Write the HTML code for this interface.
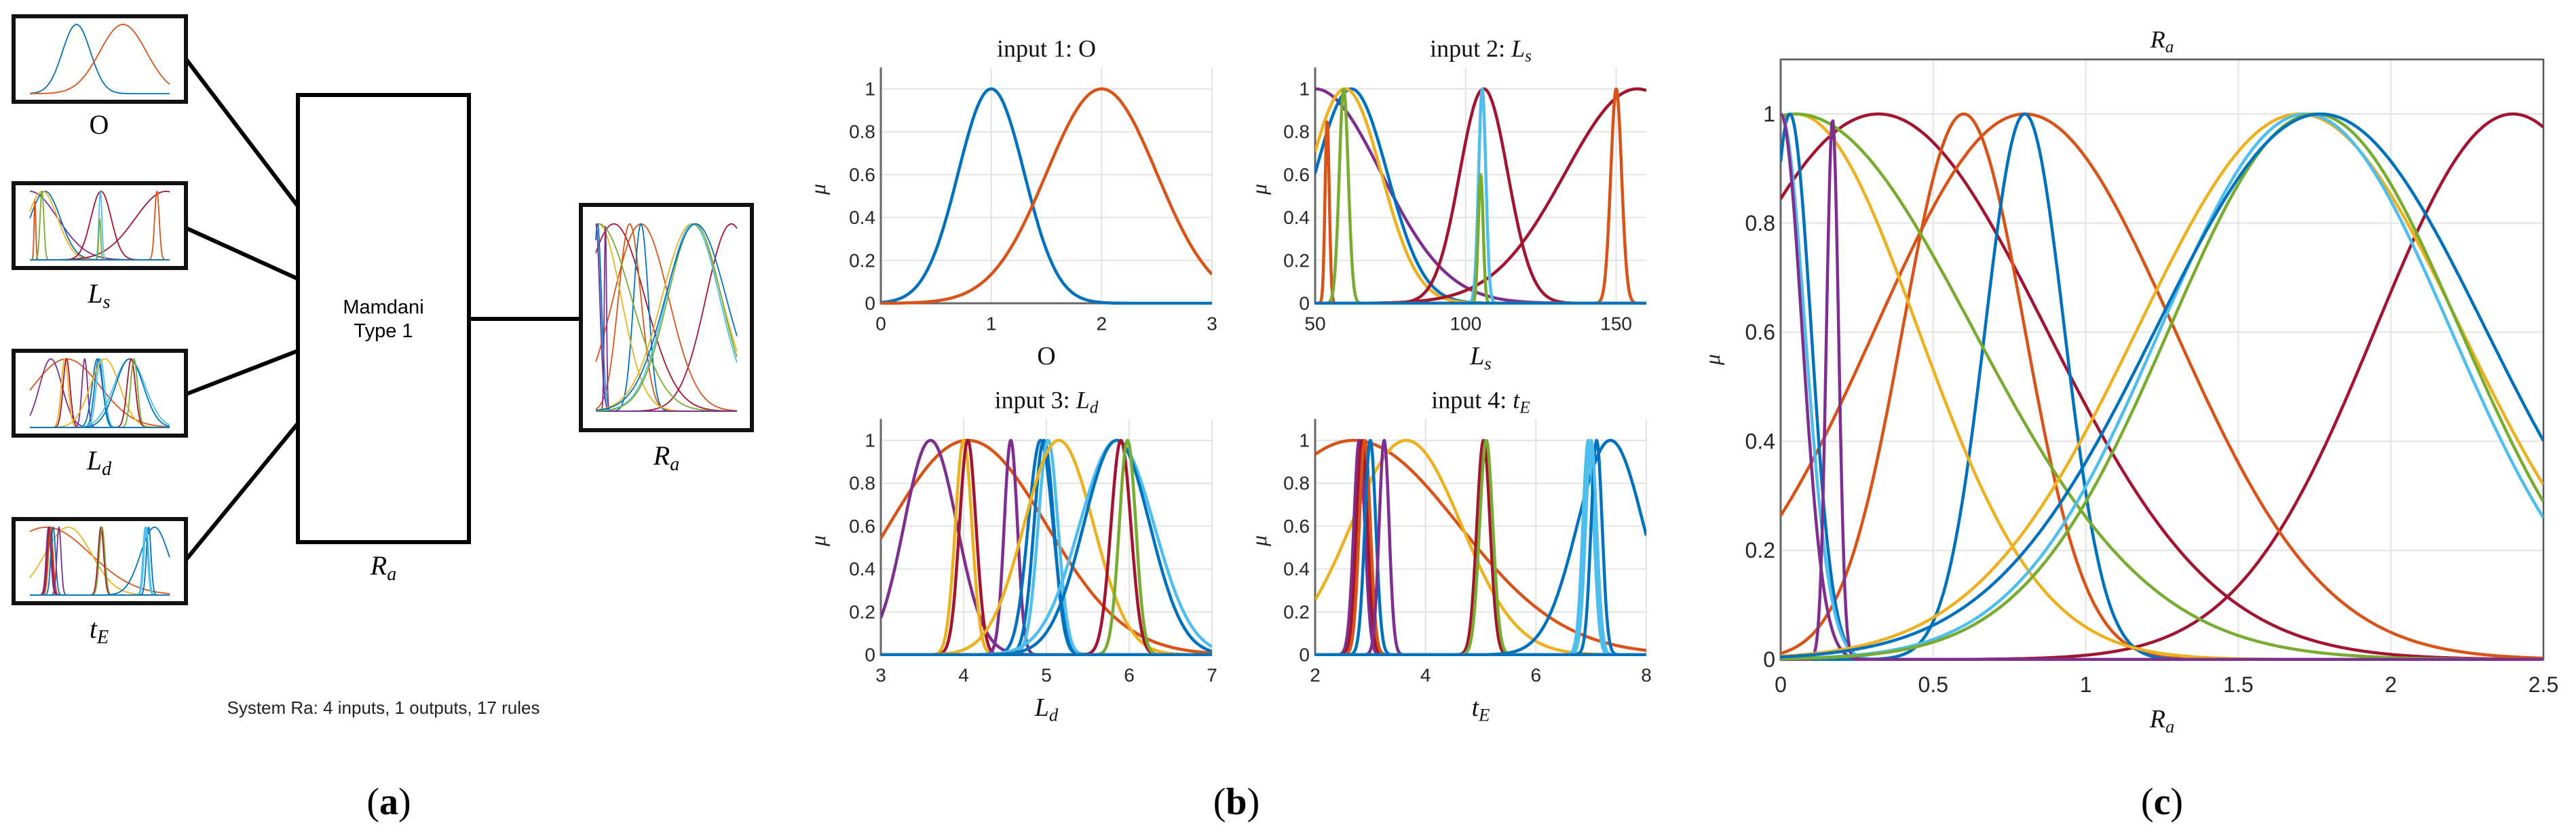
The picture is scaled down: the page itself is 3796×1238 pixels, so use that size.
<!DOCTYPE html>
<html><head><meta charset="utf-8"><style>
html,body{margin:0;padding:0;background:#fff;}
svg{display:block;}
</style></head><body>
<svg id="fig" xmlns="http://www.w3.org/2000/svg" width="3796" height="1238" viewBox="0 0 3796 1238">
<rect width="3796" height="1238" fill="#fff"/>
<g id="panelA">
  <line x1="274" y1="87" x2="439" y2="304" stroke="#000" stroke-width="6"/>
  <line x1="274" y1="336" x2="439" y2="411" stroke="#000" stroke-width="6"/>
  <line x1="274" y1="581" x2="439" y2="517" stroke="#000" stroke-width="6"/>
  <line x1="274" y1="825" x2="439" y2="624" stroke="#000" stroke-width="6"/>
  <line x1="691" y1="470" x2="856" y2="470" stroke="#000" stroke-width="6"/>
  <rect x="439" y="140" width="252" height="659" fill="#fff" stroke="#000" stroke-width="6"/>
  <text x="565" y="462" font-family="Liberation Sans, sans-serif" font-size="29" text-anchor="middle">Mamdani</text>
  <text x="565" y="497" font-family="Liberation Sans, sans-serif" font-size="29" text-anchor="middle">Type 1</text>
  <text x="565" y="847" font-family="Liberation Serif, serif" font-size="40" text-anchor="middle"><tspan font-style="italic">R</tspan><tspan font-style="italic" font-size="28" dy="8">a</tspan></text>
  <text x="146" y="197" font-family="Liberation Serif, serif" font-size="40" text-anchor="middle">O</text>
  <text x="146" y="446" font-family="Liberation Serif, serif" font-size="40" text-anchor="middle"><tspan font-style="italic">L</tspan><tspan font-style="italic" font-size="28" dy="8">s</tspan></text>
  <text x="146" y="692" font-family="Liberation Serif, serif" font-size="40" text-anchor="middle"><tspan font-style="italic">L</tspan><tspan font-style="italic" font-size="28" dy="8">d</tspan></text>
  <text x="146" y="940" font-family="Liberation Serif, serif" font-size="40" text-anchor="middle"><tspan font-style="italic">t</tspan><tspan font-style="italic" font-size="28" dy="8">E</tspan></text>
  <text x="982" y="685" font-family="Liberation Serif, serif" font-size="40" text-anchor="middle"><tspan font-style="italic">R</tspan><tspan font-style="italic" font-size="28" dy="8">a</tspan></text>
  <text x="565" y="1052" font-family="Liberation Sans, sans-serif" font-size="26" text-anchor="middle" fill="#222">System Ra: 4 inputs, 1 outputs, 17 rules</text>
  <text x="573" y="1200" font-family="Liberation Serif, serif" font-size="56" text-anchor="middle">(<tspan font-weight="bold">a</tspan>)</text>
</g>
<g id="panelB">
  <text x="1822" y="1200" font-family="Liberation Serif, serif" font-size="56" text-anchor="middle">(<tspan font-weight="bold">b</tspan>)</text>
</g>
<g id="panelC">
  <text x="3186" y="1200" font-family="Liberation Serif, serif" font-size="56" text-anchor="middle">(<tspan font-weight="bold">c</tspan>)</text>
</g>
</svg>
<script>
const B='#0072BD',R='#D95319',Y='#EDB120',P='#7E2F8E',G='#77AC30',C='#4DBEEE',D='#A2142F';
// input 1: O
const oCenters=[1,2];
const oSigmas=[0.3,0.5];
const oHeights=[1,1];
const oColors=[B,R];
const oTicks=[0,1,2,3];
// input 2: Ls
const lsCenters=[50,62,60,54,59.5,106,157,150,105.5,105,50];
const lsSigmas=[22,12,12,0.7,1.5,8,24,1.8,1.2,0.8,0.5];
const lsHeights=[1,1,1,0.85,1,1,1,1,1,0.6,0];
const lsColors=[P,B,Y,R,G,D,D,R,C,G,B];
const lsTicks=[50,100,150];
// input 3: Ld
const ldCenters=[4.05,3.6,4.0,4.05,4.57,4.93,4.97,5.02,5.15,5.85,5.85,5.9,5.98,3];
const ldSigmas=[0.95,0.32,0.1,0.1,0.08,0.15,0.12,0.12,0.42,0.45,0.4,0.12,0.1,0.01];
const ldHeights=[1,1,1,1,1,1,1,1,1,1,1,1,1,0];
const ldColors=[R,P,Y,D,P,B,B,C,Y,C,B,D,G,B];
const ldTicks=[3,4,5,6,7];
// input 4: tE
const teCenters=[2.7,3.65,2.8,2.85,2.9,3.0,3.25,5.05,5.1,7.35,6.95,7.1,7.0,2];
const teSigmas=[1.9,1.0,0.1,0.1,0.1,0.1,0.09,0.12,0.12,0.6,0.1,0.1,0.1,0.01];
const teHeights=[1,1,1,1,1,1,1,1,1,1,1,1,1,0];
const teColors=[R,Y,P,D,R,B,P,D,G,B,C,B,C,B];
const teTicks=[2,4,6,8];
// output: Ra
const raCenters=[0.32,2.4,0.8,0.6,0.8,0.05,0.05,0.03,0.0,0.0,0.17,1.7,1.72,1.75,1.77];
const raSigmas=[0.55,0.45,0.49,0.2,0.13,0.4,0.58,0.07,0.08,0.07,0.02,0.53,0.475,0.476,0.54];
const raHeights=[1,1,1,1,1,1,1,1,1,1,0.99,1,1,1,1];
const raColors=[D,D,R,R,B,Y,G,B,C,P,P,Y,C,G,B];
const raTicks=[0,0.5,1,1.5,2,2.5];
const yTicks=[0,0.2,0.4,0.6,0.8,1];

const NS='http://www.w3.org/2000/svg';
function mk(tag,attrs,parent){const e=document.createElementNS(NS,tag);for(const k in attrs)e.setAttribute(k,attrs[k]);parent.appendChild(e);return e;}
function curvePts(c,s,h,xmin,xmax,sx,sy){let p=[];const n=700;for(let i=0;i<=n;i++){const x=xmin+(xmax-xmin)*i/n;const v=h*Math.exp(-(x-c)*(x-c)/(2*s*s));p.push(sx(x).toFixed(1)+','+sy(v).toFixed(1));}return p.join(' ');}

function drawAxes(parent,L,Rt,y0,y1,xmin,xmax,xt,opts){
  const sx=x=>L+(x-xmin)/(xmax-xmin)*(Rt-L);
  const sy=v=>y0-v*(y0-y1);
  const top=sy(1.1);
  const g=mk('g',{},parent);
  
  
  const grid=mk('g',{stroke:'#e3e3e3','stroke-width':2},g);
  
  
  xt.forEach(t=>{const l=mk('line',{x1:sx(t),x2:sx(t),y1:top,y2:y0},grid);});
  yTicks.forEach(t=>{const l=mk('line',{x1:L,x2:Rt,y1:sy(t),y2:sy(t)},grid);});
  if(opts.box){const r=mk('rect',{x:L,y:top,width:Rt-L,height:y0-top,fill:'none',stroke:'#555','stroke-width':2.5},g);}
  const ax=mk('path',{d:`M${L},${top} L${L},${y0} L${Rt},${y0}`,fill:'none',stroke:'#666','stroke-width':3},g);
  
  
  const lines=mk('g',{fill:'none','stroke-width':opts.lw,'stroke-linejoin':'round'},g);
  
  
  const cl='clip-'+opts.name;
  const cp=mk('clipPath',{id:cl},g);mk('rect',{x:L,y:top-10,width:Rt-L,height:y0-top+12},cp);
  lines.setAttribute('clip-path','url(#'+cl+')');
  opts.centers.forEach((c,i)=>{
    const pl=mk('polyline',{points:curvePts(c,opts.sigmas[i],opts.heights[i],xmin,xmax,sx,sy),stroke:opts.colors[i]},lines);
    
    
  });
  const tf=opts.tickFont;
  xt.forEach(t=>{const tx=mk('text',{x:sx(t),y:opts.tickY,'font-family':'Liberation Sans, sans-serif','font-size':tf,'text-anchor':'middle','dominant-baseline':'central',fill:'#262626'},g);tx.textContent=String(t);});
  yTicks.forEach(t=>{const tx=mk('text',{x:L-8,y:sy(t),'font-family':'Liberation Sans, sans-serif','font-size':tf,'text-anchor':'end','dominant-baseline':'central',fill:'#262626'},g);tx.textContent=String(t);});
  return g;
}
function richLabel(parent,x,y,size,main,sub,italic,name,pre){
  const t=mk('text',{x:x,y:y,'font-family':'Liberation Serif, serif','font-size':size,'text-anchor':'middle',fill:'#111'},parent);
  
  
  if(pre){const a=mk('tspan',{},t);a.textContent=pre;}
  const m=mk('tspan',{'font-style':italic?'italic':'normal'},t);m.textContent=main;
  if(sub){const s=mk('tspan',{'font-style':'italic','font-size':size*0.7,dy:size*0.2},t);s.textContent=sub;}
  return t;
}
function muLabel(parent,x,y,size){
  const t=mk('text',{x:x,y:y,'font-family':'Liberation Serif, serif','font-size':size,'font-style':'italic','text-anchor':'middle',transform:`rotate(-90 ${x} ${y})`,fill:'#222'},parent);
  t.textContent='μ';
  
  
}
const pB=document.getElementById('panelB');
const pC=document.getElementById('panelC');
const pA=document.getElementById('panelA');
const specs=[
 {name:'input1-o',L:1298,R:1786,y0:447,y1:131,xmin:0,xmax:3,t:oTicks,c:oCenters,s:oSigmas,h:oHeights,col:oColors,title:['O',null,false,'input 1: '],xl:['O',null,false],mu:1216},
 {name:'input2-ls',L:1938,R:2426,y0:447,y1:131,xmin:50,xmax:160,t:lsTicks,c:lsCenters,s:lsSigmas,h:lsHeights,col:lsColors,title:['L','s',true,'input 2: '],xl:['L','s',true],mu:1866},
 {name:'input3-ld',L:1298,R:1786,y0:965,y1:649,xmin:3,xmax:7,t:ldTicks,c:ldCenters,s:ldSigmas,h:ldHeights,col:ldColors,title:['L','d',true,'input 3: '],xl:['L','d',true],mu:1216},
 {name:'input4-te',L:1938,R:2426,y0:965,y1:649,xmin:2,xmax:8,t:teTicks,c:teCenters,s:teSigmas,h:teHeights,col:teColors,title:['t','E',true,'input 4: '],xl:['t','E',true],mu:1866}
];
specs.forEach(sp=>{
  const g=drawAxes(pB,sp.L,sp.R,sp.y0,sp.y1,sp.xmin,sp.xmax,sp.t,{name:sp.name,centers:sp.c,sigmas:sp.s,heights:sp.h,colors:sp.col,lw:4.5,tickFont:28,tickY:sp.y0+30,box:false});
  const cx=(sp.L+sp.R)/2;
  richLabel(g,cx,sp.y0-316*1.1-16,36,sp.title[0],sp.title[1],sp.title[2],'plot-title',sp.title[3]);
  richLabel(g,cx,sp.y0+90,38,sp.xl[0],sp.xl[1],sp.xl[2],'x-axis-title');
  muLabel(g,sp.mu,(sp.y0+sp.y1)/2-10,32);
});
const gc=drawAxes(pC,2624,3748,972,168,0,2.5,raTicks,{name:'output-ra',centers:raCenters,sigmas:raSigmas,heights:raHeights,colors:raColors,lw:4.5,tickFont:32,tickY:1009,box:true});
richLabel(gc,3186,70,36,'R','a',true,'plot-title');
richLabel(gc,3186,1072,38,'R','a',true,'x-axis-title');
muLabel(gc,2534,530,32);

// thumbnails in panel a
function thumb(name,bx,by,bw,bh,xmin,xmax,cs,ss,hs,cols,padX,padY){
  const g=mk('g',{},pA);
  
  
  const r=mk('rect',{x:bx,y:by,width:bw,height:bh,fill:'#fff',stroke:'#111','stroke-width':6},g);
  
  
  const L=bx+padX,Rt=bx+bw-padX,T=by+padY,Bm=by+bh-padY;
  const sx=x=>L+(x-xmin)/(xmax-xmin)*(Rt-L);
  const sy=v=>Bm-v*(Bm-T);
  const lg=mk('g',{fill:'none','stroke-width':1.8},g);
  cs.forEach((c,i)=>{const pl=mk('polyline',{points:curvePts(c,ss[i],hs[i],xmin,xmax,sx,sy),stroke:cols[i]},lg);});
}
thumb('thumb-o',20,24,254,126,0,3,oCenters,oSigmas,oHeights,oColors,24,12);
thumb('thumb-ls',20,270,254,125,50,160,lsCenters,lsSigmas,lsHeights,lsColors,24,12);
thumb('thumb-ld',20,517,254,125,3,7,ldCenters,ldSigmas,ldHeights,ldColors,24,12);
thumb('thumb-te',20,765,254,124,2,8,teCenters,teSigmas,teHeights,teColors,24,12);
thumb('thumb-ra',856,302,252,332,0,2.5,raCenters,raSigmas,raHeights,raColors,22,28);
</script>
</body></html>
